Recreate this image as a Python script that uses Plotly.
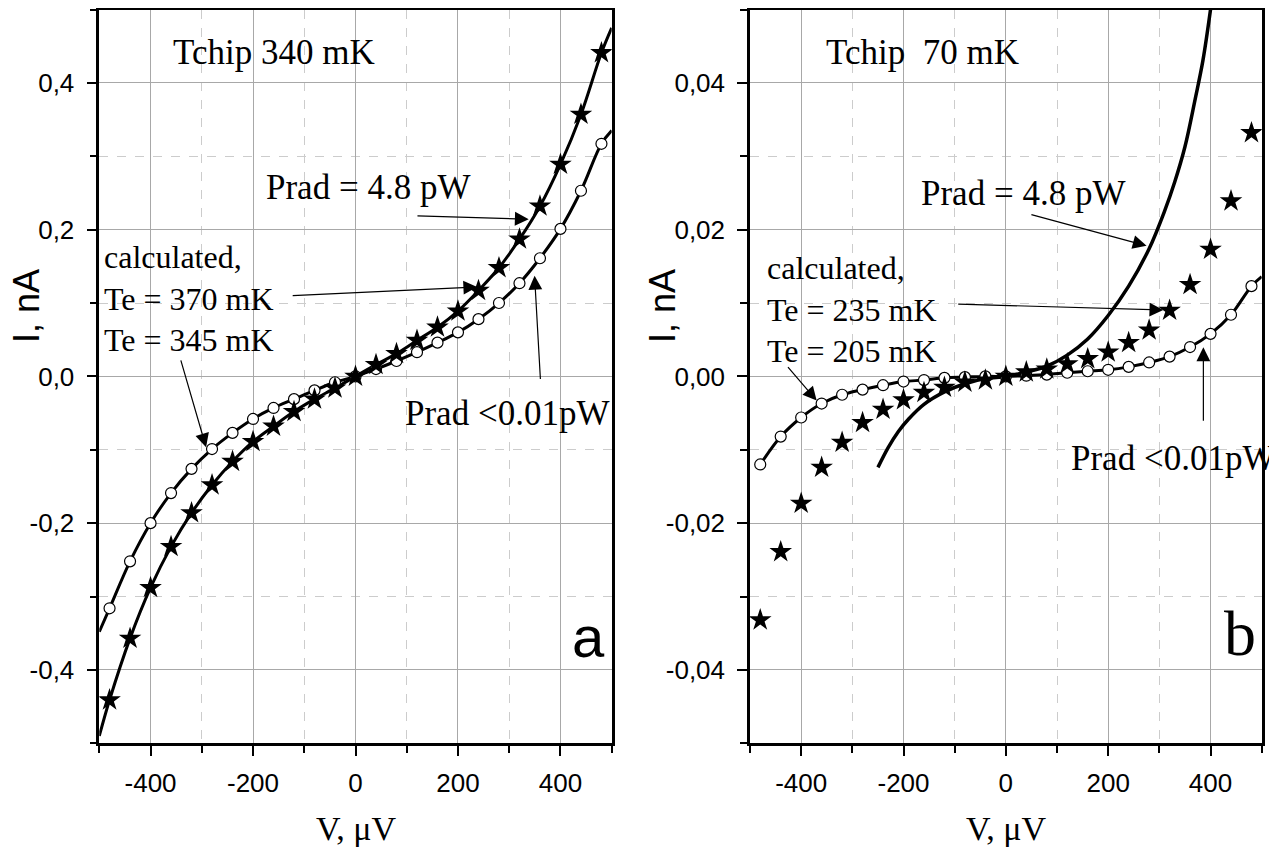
import plotly.graph_objects as go

# ---------------- data ----------------
# Panel a (Tchip 340 mK)
v_pts = [-480, -440, -400, -360, -320, -280, -240, -200, -160, -120, -80, -40, 0,
         40, 80, 120, 160, 200, 240, 280, 320, 360, 400, 440, 480]
a_star = [-0.441, -0.357, -0.288, -0.232, -0.186, -0.148, -0.116, -0.089, -0.068, -0.048, -0.031, -0.016, 0.0,
          0.016, 0.031, 0.049, 0.067, 0.089, 0.117, 0.148, 0.187, 0.232, 0.289, 0.357, 0.441]
a_circ = [-0.316, -0.252, -0.200, -0.159, -0.126, -0.099, -0.077, -0.058, -0.043, -0.031, -0.019, -0.008, 0.0,
          0.010, 0.021, 0.033, 0.046, 0.060, 0.078, 0.100, 0.127, 0.161, 0.201, 0.253, 0.317]
a_line_v = [-500] + v_pts + [500]
a_line_370 = [-0.490] + a_star + [0.475]
a_line_345 = [-0.348] + a_circ + [0.335]

# Panel b (Tchip 70 mK)
b_star = [-0.0332, -0.0239, -0.0173, -0.0124, -0.0090, -0.0063, -0.0045, -0.0032, -0.0022, -0.0015, -0.0008, -0.0005, 0.0,
          0.0006, 0.0010, 0.0017, 0.0024, 0.0033, 0.0046, 0.0063, 0.0090, 0.0125, 0.0173, 0.0239, 0.0332]
b_circ = [-0.0120, -0.0082, -0.0056, -0.0037, -0.0025, -0.0018, -0.0012, -0.0007, -0.0005, -0.0002, -0.0001, 0.0, 0.0,
          0.0001, 0.00025, 0.0005, 0.0007, 0.0009, 0.0013, 0.0019, 0.0027, 0.0040, 0.0058, 0.0084, 0.0123]
b_line205_v = [-485] + v_pts + [500]
b_line205 = [-0.0125] + b_circ + [0.0136]
b_line235_v = [-250, -230, -210, -190, -160, -120, -80, -40, 0, 40, 80, 120, 160, 200, 240, 280, 310, 330, 350, 370, 385, 400]
b_line235 = [-0.0124, -0.0097, -0.0075, -0.0058, -0.0038, -0.0021, -0.0010, -0.0003, 0.0, 0.0006, 0.0014, 0.0029,
             0.0051, 0.0083, 0.0123, 0.0174, 0.0225, 0.0265, 0.0313, 0.0378, 0.0430, 0.0500]

x_tickvals = [-400, -200, 0, 200, 400]
x_ticktext = ['-400', '-200', '0', '200', '400']
a_tickvals = [-0.4, -0.2, 0.0, 0.2, 0.4]
a_ticktext = ['-0,4', '-0,2', '0,0', '0,2', '0,4']
b_tickvals = [-0.04, -0.02, 0.0, 0.02, 0.04]
b_ticktext = ['-0,04', '-0,02', '0,00', '0,02', '0,04']

# ---------------- figure ----------------
OFF = 8                      # page body margin
W, H = 1277 - OFF, 848 - OFF


def fx(px):
    return (px - OFF) / W


def fy(py):
    return 1 - (py - OFF) / H


fig = go.Figure()
LW = 3
star_m = dict(symbol='star', size=17, color='black', line=dict(width=0))
circ_m = dict(symbol='circle', size=11, color='white', line=dict(color='black', width=1.2))

fig.add_trace(go.Scatter(x=a_line_v, y=a_line_345, mode='lines', line=dict(color='black', width=LW, shape='spline'),
                         xaxis='x', yaxis='y'))
fig.add_trace(go.Scatter(x=a_line_v, y=a_line_370, mode='lines', line=dict(color='black', width=LW, shape='spline'),
                         xaxis='x', yaxis='y'))
fig.add_trace(go.Scatter(x=v_pts, y=a_circ, mode='markers', marker=circ_m, xaxis='x', yaxis='y'))
fig.add_trace(go.Scatter(x=v_pts, y=a_star, mode='markers', marker=star_m, xaxis='x', yaxis='y'))

fig.add_trace(go.Scatter(x=b_line205_v, y=b_line205, mode='lines', line=dict(color='black', width=LW, shape='spline'),
                         xaxis='x2', yaxis='y2'))
fig.add_trace(go.Scatter(x=b_line235_v, y=b_line235, mode='lines', line=dict(color='black', width=3.5, shape='spline'),
                         xaxis='x2', yaxis='y2'))
fig.add_trace(go.Scatter(x=v_pts, y=b_circ, mode='markers', marker=circ_m, xaxis='x2', yaxis='y2'))
fig.add_trace(go.Scatter(x=v_pts, y=b_star, mode='markers', marker=star_m, xaxis='x2', yaxis='y2'))

tickfont = dict(family='Liberation Sans, Arial', size=26, color='black')


def xax(domain):
    return dict(domain=domain, range=[-500, 500], tickvals=x_tickvals, ticktext=x_ticktext,
                ticks='outside', ticklen=10, tickwidth=2, tickcolor='black',
                showline=True, linewidth=2.5, linecolor='black', mirror=True,
                showgrid=True, gridcolor='#a8a8a8', gridwidth=1, zeroline=False,
                minor=dict(tickvals=[-500, -300, -100, 100, 300, 500], ticks='outside', ticklen=7,
                           tickwidth=2, tickcolor='black', showgrid=True, gridcolor='#cccccc',
                           griddash='dash', gridwidth=1),
                tickfont=tickfont, ticklabelstandoff=5, fixedrange=True)


def yax(domain, rng, tv, tt, minor_tv, anchor):
    return dict(domain=domain, range=rng, tickvals=tv, ticktext=tt, anchor=anchor,
                ticks='outside', ticklen=10, tickwidth=2, tickcolor='black',
                showline=True, linewidth=2.5, linecolor='black', mirror=True,
                showgrid=True, gridcolor='#a8a8a8', gridwidth=1, zeroline=False,
                minor=dict(tickvals=minor_tv, ticks='outside', ticklen=7,
                           tickwidth=2, tickcolor='black', showgrid=True, gridcolor='#cccccc',
                           griddash='dash', gridwidth=1),
                tickfont=tickfont, ticklabelstandoff=7, fixedrange=True)


ydom = [fy(743.3), min(1.0, fy(9.5))]
fig.update_layout(
    width=W, height=H, autosize=False,
    margin=dict(l=0, r=0, t=0, b=0),
    paper_bgcolor='white', plot_bgcolor='white', showlegend=False,
    xaxis=dict(xax([fx(99.3), fx(611.7)]), anchor='y'),
    yaxis=yax(ydom, [-0.5, 0.5], a_tickvals, a_ticktext, [-0.5, -0.3, -0.1, 0.1, 0.3, 0.5], 'x'),
    xaxis2=dict(xax([fx(750), fx(1261.7)]), anchor='y2'),
    yaxis2=yax(ydom, [-0.05, 0.05], b_tickvals, b_ticktext, [-0.05, -0.03, -0.01, 0.01, 0.03, 0.05], 'x2'),
)

serif = 'Liberation Serif, Times New Roman'
sans = 'Liberation Sans, Arial'
TS = 35


def txt(x, y, s, xr, yr, size=TS, fam=serif, xanchor='left'):
    fig.add_annotation(x=x, y=y, xref=xr, yref=yr, text=s, showarrow=False, align='left',
                       xanchor=xanchor, yanchor='middle', font=dict(family=fam, size=size, color='black'))


def arr(x, y, ax, ay, xr, yr):
    fig.add_annotation(x=x, y=y, ax=ax, ay=ay, xref=xr, yref=yr, axref=xr, ayref=yr, text='',
                       showarrow=True, arrowhead=2, arrowsize=2.3, arrowwidth=1.2, arrowcolor='black',
                       standoff=0, startstandoff=0)


# panel a texts
txt(-361, 0.441, 'Tchip 340 mK', 'x', 'y')
txt(-178, 0.257, 'Prad = 4.8 pW', 'x', 'y')
txt(-494, 0.106, 'calculated,<br>Te = 370 mK<br>Te = 345 mK', 'x', 'y', size=32)
txt(92, -0.0506, 'Prad &lt;0.01pW', 'x', 'y')
txt(454, -0.355, 'a', 'x', 'y', size=58, fam=sans, xanchor='center')
arr(338, 0.2143, 118, 0.2188, 'x', 'y')
arr(237.5, 0.122, -125.5, 0.110, 'x', 'y')
arr(-291.6, -0.0965, -341.7, 0.0238, 'x', 'y')
arr(349.5, 0.137, 361, -0.0057, 'x', 'y')

# panel b texts
txt(-355, 0.0441, 'Tchip&#160;&#160;70 mK', 'x2', 'y2')
txt(-169, 0.0249, 'Prad = 4.8 pW', 'x2', 'y2')
txt(-471, 0.0091, 'calculated,<br>Te = 235 mK<br>Te = 205 mK', 'x2', 'y2', size=32)
txt(123, -0.0112, 'Prad &lt;0.01pW', 'x2', 'y2')
txt(458, -0.035, 'b', 'x2', 'y2', size=64, xanchor='center')
arr(275, 0.0178, 47, 0.0221, 'x2', 'y2')
arr(307.7, 0.00905, -96, 0.00986, 'x2', 'y2')
arr(-369.7, -0.0033, -428.3, 0.00147, 'x2', 'y2')
arr(386, 0.00396, 386, -0.00624, 'x2', 'y2')

# axis titles
for xp in (26, 662):
    fig.add_annotation(x=fx(xp), y=fy(306), xref='paper', yref='paper', text='I, nA', showarrow=False,
                       textangle=-90, xanchor='center', yanchor='middle',
                       font=dict(family=sans, size=36, color='black'))
for xp in (355.5, 1006):
    fig.add_annotation(x=fx(xp), y=fy(828), xref='paper', yref='paper', text='V, μV', showarrow=False,
                       xanchor='center', yanchor='middle', font=dict(family=serif, size=34, color='black'))

fig.write_html('out.html')
